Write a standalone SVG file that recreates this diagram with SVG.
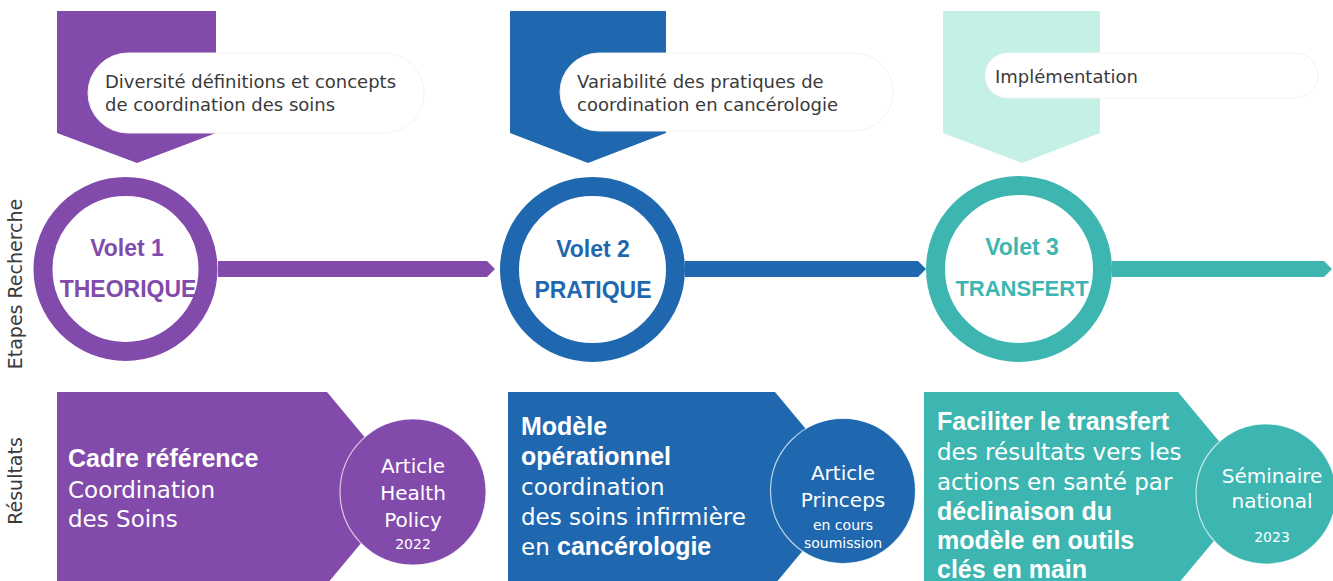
<svg xmlns="http://www.w3.org/2000/svg" width="1333" height="581" viewBox="0 0 1333 581">
<style>
.lbl{font-family:"DejaVu Sans",sans-serif;font-size:18px;fill:#3a3a3a}
.pill{fill:#fff;stroke:#f3f3f3;stroke-width:1}
.ring{fill:#fff;stroke-width:19}
.vt{font-family:"Liberation Sans",Arial,sans-serif;font-weight:bold;font-size:23px;text-anchor:middle}
.bt{font-family:"DejaVu Sans",sans-serif;font-size:23px;fill:#fff}
.bb{font-family:"Liberation Sans",Arial,sans-serif;font-weight:bold;font-size:25px}
.ct{font-family:"DejaVu Sans",sans-serif;font-size:20px;fill:#fff;text-anchor:middle}
.cs{font-family:"DejaVu Sans",sans-serif;font-size:14px;fill:#fff;text-anchor:middle}
.side{font-family:"DejaVu Sans",sans-serif;font-size:19px;fill:#3a3a3a;text-anchor:middle}
.rc{stroke:#ffffff;stroke-opacity:0.7;stroke-width:1.2}
</style>
<rect width="1333" height="581" fill="#fff"/>
<g id="side-labels">
<text class="side" transform="translate(22,284) rotate(-90)">Etapes Recherche</text>
<text class="side" transform="translate(22,481) rotate(-90)">Résultats</text>
</g>
<g id="connectors">
<polygon points="218,261 487,261 495,269 487,277 218,277" fill="#824BAB"/>
<polygon points="685,261 918,261 926,269 918,277 685,277" fill="#1F68B0"/>
<polygon points="1112,261 1324,261 1332,269 1324,277 1112,277" fill="#3DB6B1"/>
</g>
<g id="etape1">
<polygon points="57,11 216,11 216,133 137,163 57,133" fill="#824BAB"/>
<rect class="pill" x="88" y="53" width="336" height="80" rx="40"/>
<text class="lbl" x="105" y="88">Diversité définitions et concepts</text>
<text class="lbl" x="105" y="111">de coordination des soins</text>
</g>
<g id="etape2">
<polygon points="510,11 666,11 666,133 588,163 510,133" fill="#1F68B0"/>
<rect class="pill" x="560" y="53" width="333" height="78" rx="39"/>
<text class="lbl" x="577" y="88">Variabilité des pratiques de</text>
<text class="lbl" x="577" y="111">coordination en cancérologie</text>
</g>
<g id="etape3">
<polygon points="943,11 1100,11 1100,133 1022,163 943,133" fill="#C5F0E6"/>
<rect class="pill" x="985" y="53" width="333" height="45" rx="22.5"/>
<text class="lbl" x="995" y="83">Implémentation</text>
</g>
<g id="volet1">
<circle class="ring" cx="125.5" cy="269" r="82.5" stroke="#824BAB"/>
<text class="vt" x="127" y="256" fill="#824BAB">Volet 1</text>
<text class="vt" x="128" y="297" fill="#824BAB">THEORIQUE</text>
</g>
<g id="volet2">
<circle class="ring" cx="592.5" cy="269.5" r="83" stroke="#1F68B0"/>
<text class="vt" x="593" y="257" fill="#1F68B0">Volet 2</text>
<text class="vt" x="593" y="298" fill="#1F68B0">PRATIQUE</text>
</g>
<g id="volet3">
<circle class="ring" cx="1019" cy="269" r="83.5" stroke="#3DB6B1"/>
<text class="vt" x="1022" y="255" fill="#3DB6B1">Volet 3</text>
<text class="vt" x="1022" y="296" fill="#3DB6B1" style="font-size:22px">TRANSFERT</text>
</g>
<g id="resultat1">
<polygon points="57,392 327,392 407,488 327,584 57,584" fill="#824BAB"/>
<text x="68" y="467" class="bb" fill="#fff">Cadre référence</text>
<text x="68" y="498" class="bt">Coordination</text>
<text x="68" y="527" class="bt">des Soins</text>
<circle cx="413" cy="492" r="73" fill="#824BAB" class="rc"/>
<text class="ct" x="413" y="473">Article</text>
<text class="ct" x="413" y="500">Health</text>
<text class="ct" x="413" y="527">Policy</text>
<text class="cs" x="413" y="549">2022</text>
</g>
<g id="resultat2">
<polygon points="508,392 775,392 855,488 775,584 508,584" fill="#1F68B0"/>
<text x="521" y="435" class="bb" fill="#fff">Modèle</text>
<text x="521" y="465" class="bb" fill="#fff">opérationnel</text>
<text x="521" y="495" class="bt">coordination</text>
<text x="521" y="525" class="bt">des soins infirmière</text>
<text x="521" y="555" class="bt">en <tspan class="bb" fill="#fff">cancérologie</tspan></text>
<circle cx="843" cy="491" r="72.5" fill="#1F68B0" class="rc"/>
<text class="ct" x="843" y="480">Article</text>
<text class="ct" x="843" y="507">Princeps</text>
<text class="cs" x="843" y="530">en cours</text>
<text class="cs" x="843" y="548">soumission</text>
</g>
<g id="resultat3">
<polygon points="924,392 1178,392 1258,488 1178,584 924,584" fill="#3DB6B1"/>
<text x="937" y="430" class="bb" fill="#fff">Faciliter le transfert</text>
<text x="937" y="460" class="bt">des résultats vers les</text>
<text x="937" y="490" class="bt">actions en santé par</text>
<text x="937" y="520" class="bb" fill="#fff">déclinaison du</text>
<text x="937" y="549" class="bb" fill="#fff">modèle en outils</text>
<text x="937" y="578" class="bb" fill="#fff">clés en main</text>
<circle cx="1266" cy="494" r="70" fill="#3DB6B1" class="rc"/>
<text class="ct" x="1272" y="483">Séminaire</text>
<text class="ct" x="1272" y="508">national</text>
<text class="cs" x="1272" y="542">2023</text>
</g>
</svg>
